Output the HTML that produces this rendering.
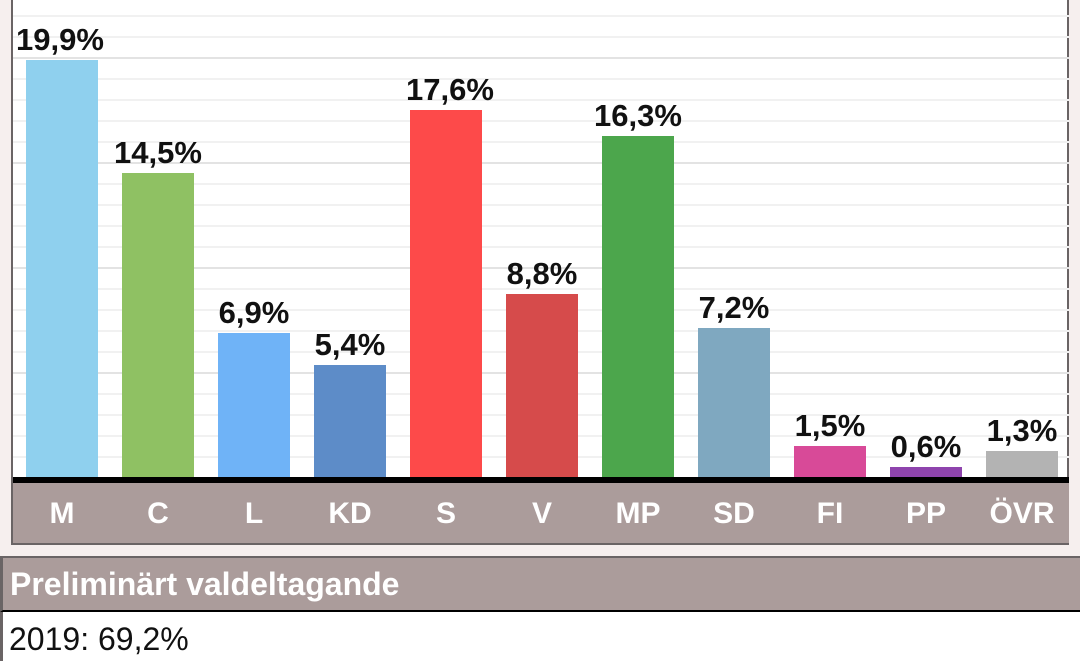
<!DOCTYPE html>
<html><head><meta charset="utf-8"><style>
body{margin:0;width:1080px;height:661px;background:#f6efee;position:relative;overflow:hidden;font-family:"Liberation Sans",sans-serif}
.a{position:absolute}
.bar{position:absolute;width:72px}
.v{position:absolute;width:160px;text-align:center;font-weight:bold;font-size:31px;color:#111;line-height:30px}
.l{position:absolute;width:96px;text-align:center;font-weight:bold;font-size:30px;color:#fff;top:497px;line-height:34px}
</style></head><body>
<div class="a" style="left:11px;top:0;width:1058px;height:545px;border:2px solid #6a6465;border-top:none;background:#fff;box-sizing:border-box"></div>
<svg class="a" style="left:13px;top:0" width="1056" height="478">
<g stroke="#f1f1f1" stroke-width="2">
<line x1="0" x2="1056" y1="457" y2="457"/><line x1="0" x2="1056" y1="436" y2="436"/><line x1="0" x2="1056" y1="415" y2="415"/><line x1="0" x2="1056" y1="394" y2="394"/>
<line x1="0" x2="1056" y1="352" y2="352"/><line x1="0" x2="1056" y1="331" y2="331"/><line x1="0" x2="1056" y1="310" y2="310"/><line x1="0" x2="1056" y1="289" y2="289"/>
<line x1="0" x2="1056" y1="247" y2="247"/><line x1="0" x2="1056" y1="226" y2="226"/><line x1="0" x2="1056" y1="205" y2="205"/><line x1="0" x2="1056" y1="184" y2="184"/>
<line x1="0" x2="1056" y1="142" y2="142"/><line x1="0" x2="1056" y1="121" y2="121"/><line x1="0" x2="1056" y1="100" y2="100"/><line x1="0" x2="1056" y1="79" y2="79"/>
<line x1="0" x2="1056" y1="37" y2="37"/><line x1="0" x2="1056" y1="16" y2="16"/></g>
<g stroke="#e3e3e3" stroke-width="2"><line x1="0" x2="1056" y1="373" y2="373"/><line x1="0" x2="1056" y1="268" y2="268"/><line x1="0" x2="1056" y1="163" y2="163"/><line x1="0" x2="1056" y1="58" y2="58"/></g>
</svg>
<div class="bar" style="left:26px;top:60px;height:418px;background:#8fd0ee"></div>
<div class="bar" style="left:122px;top:173px;height:305px;background:#8fc163"></div>
<div class="bar" style="left:218px;top:333px;height:145px;background:#6fb3f7"></div>
<div class="bar" style="left:314px;top:365px;height:113px;background:#5d8cc8"></div>
<div class="bar" style="left:410px;top:110px;height:368px;background:#fd4a4a"></div>
<div class="bar" style="left:506px;top:294px;height:184px;background:#d64b4b"></div>
<div class="bar" style="left:602px;top:136px;height:342px;background:#4ca64c"></div>
<div class="bar" style="left:698px;top:328px;height:150px;background:#7fa8c0"></div>
<div class="bar" style="left:794px;top:446px;height:32px;background:#d84a98"></div>
<div class="bar" style="left:890px;top:467px;height:11px;background:#8e44ad"></div>
<div class="bar" style="left:986px;top:451px;height:27px;background:#b3b3b3"></div>
<div class="v" style="left:-20px;top:25px">19,9%</div>
<div class="v" style="left:78px;top:138px">14,5%</div>
<div class="v" style="left:174px;top:298px">6,9%</div>
<div class="v" style="left:270px;top:330px">5,4%</div>
<div class="v" style="left:370px;top:75px">17,6%</div>
<div class="v" style="left:462px;top:259px">8,8%</div>
<div class="v" style="left:558px;top:101px">16,3%</div>
<div class="v" style="left:654px;top:293px">7,2%</div>
<div class="v" style="left:750px;top:411px">1,5%</div>
<div class="v" style="left:846px;top:432px">0,6%</div>
<div class="v" style="left:942px;top:416px">1,3%</div>
<div class="a" style="left:13px;top:477px;width:1056px;height:6px;background:#000"></div>
<div class="a" style="left:13px;top:483px;width:1056px;height:60px;background:#ab9c9b"></div>
<div class="l" style="left:14px">M</div><div class="l" style="left:110px">C</div><div class="l" style="left:206px">L</div><div class="l" style="left:302px">KD</div><div class="l" style="left:398px">S</div><div class="l" style="left:494px">V</div><div class="l" style="left:590px">MP</div><div class="l" style="left:686px">SD</div><div class="l" style="left:782px">FI</div><div class="l" style="left:878px">PP</div><div class="l" style="left:974px">ÖVR</div>
<div class="a" style="left:0;top:556px;width:1080px;height:56px;background:#ab9c9b;border-top:2px solid #6a6465;border-left:3px solid #6a6465;border-bottom:2px solid #000;box-sizing:border-box"></div>
<div class="a" style="left:10px;top:566px;font-weight:bold;font-size:32px;line-height:36px;color:#fff">Preliminärt valdeltagande</div>
<div class="a" style="left:0;top:612px;width:1080px;height:49px;background:#fff;border-left:3px solid #6a6465;box-sizing:border-box"></div>
<div class="a" style="left:9px;top:621px;font-size:32px;line-height:36px;color:#111">2019: 69,2%</div>
</body></html>
